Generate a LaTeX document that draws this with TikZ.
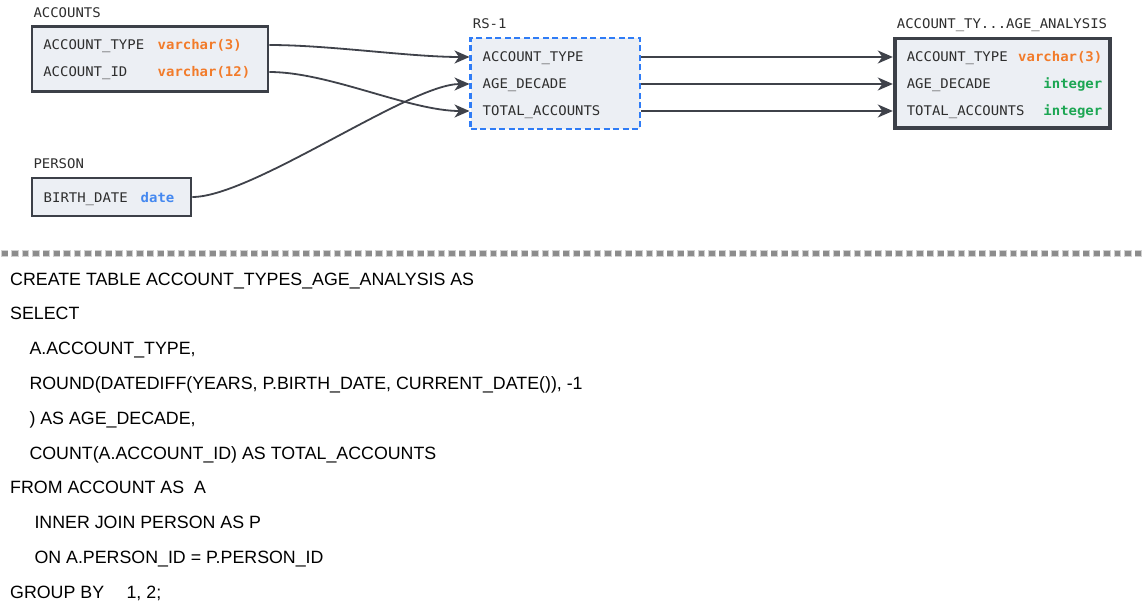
\documentclass[tikz,border=0pt]{standalone}
\usepackage{fontspec}
\setmainfont{Liberation Sans}
\newfontfamily\dmono[FakeStretch=1.05]{DejaVu Sans Mono}
\usetikzlibrary{arrows.meta}
\definecolor{boxfill}{HTML}{ECEFF4}
\definecolor{boxline}{HTML}{3C4048}
\definecolor{rsblue}{HTML}{2F7CF6}
\definecolor{txt}{HTML}{2E2E2E}
\definecolor{torange}{HTML}{F27B2A}
\definecolor{tgreen}{HTML}{1CA653}
\definecolor{tblue}{HTML}{4488F0}
\definecolor{conncol}{HTML}{3F424A}
\definecolor{sepcol}{HTML}{8C8C8C}
\newcommand\monofnt{\dmono\fontsize{13.3pt}{15pt}\selectfont}
\newcommand\sqlfnt{\fontsize{17.8pt}{20pt}\selectfont}
\begin{document}
\begin{tikzpicture}[x=1pt,y=-1pt,
  tbl/.style={draw=boxline, line width=2.6pt, fill=boxfill, inner sep=0pt, outer sep=0pt, anchor=north west},
  tgt/.style={tbl, line width=3.6pt},
  rsbox/.style={draw=rsblue, line width=2.8pt, fill=boxfill, inner sep=0pt, outer sep=0pt, anchor=north west, dash pattern=on 6pt off 3.5pt},
  row/.style={inner sep=0pt, outer sep=0pt, anchor=base west, text height=10pt, text depth=0pt, font=\monofnt, text=txt},
  lbl/.style={inner sep=0pt, anchor=base west, font=\monofnt, text=txt},
  conn/.style={draw=conncol, line width=1.8pt, -{Stealth[length=15pt, width=13pt, inset=4.5pt]}},
  sql/.style={inner sep=0pt, anchor=base west, font=\sqlfnt, text=black}
]
\useasboundingbox[fill=white] (0,0) rectangle (1145,607);

% ACCOUNTS
\node[lbl] (accountsLbl) at (33.3,17.3) {ACCOUNTS};
\node[tbl, minimum width=236pt, minimum height=65pt] (accounts) at (32,26.3) {};
\node[row] (aType) at (30.7,50) {\hbox to 238.6pt{\hspace*{12.6pt}\makebox[114.4pt][l]{ACCOUNT\_TYPE}{\bfseries\color{torange}varchar(3)}\hfil}};
\node[row] (aId) at (30.7,77) {\hbox to 238.6pt{\hspace*{12.6pt}\makebox[114.4pt][l]{ACCOUNT\_ID}{\bfseries\color{torange}varchar(12)}\hfil}};

% PERSON
\node[lbl] (personLbl) at (33.3,168) {PERSON};
\node[tbl, minimum width=159pt, minimum height=38pt] (person) at (32,178) {};
\node[row] (pBirth) at (30.7,202) {\hbox to 161.6pt{\hspace*{13pt}\makebox[97pt][l]{BIRTH\_DATE}{\bfseries\color{tblue}date}\hfil}};

% RS-1
\node[lbl] (rsLbl) at (472.7,29) {RS-1};
\node[rsbox, minimum width=169.3pt, minimum height=91pt] (rs) at (470.7,38) {};
\node[row] (rType) at (469.5,62) {\hbox to 171.8pt{\hspace*{13.2pt}ACCOUNT\_TYPE\hfil}};
\node[row] (rAge) at (469.5,89) {\hbox to 171.8pt{\hspace*{13.2pt}AGE\_DECADE\hfil}};
\node[row] (rTotal) at (469.5,116) {\hbox to 171.8pt{\hspace*{13.2pt}TOTAL\_ACCOUNTS\hfil}};

% TARGET
\node[lbl] (tgtLbl) at (896.7,29) {ACCOUNT\_TY...AGE\_ANALYSIS};
\node[tgt, minimum width=215pt, minimum height=89.3pt] (target) at (894.7,38.7) {};
\node[row] (tType) at (892.8,62) {\hbox to 209.5pt{\hspace*{14pt}ACCOUNT\_TYPE\hfill{\bfseries\color{torange}varchar(3)}}};
\node[row] (tAge) at (892.8,89) {\hbox to 209.5pt{\hspace*{14pt}AGE\_DECADE\hfill{\bfseries\color{tgreen}integer}}};
\node[row] (tTotal) at (892.8,116) {\hbox to 209.5pt{\hspace*{14pt}TOTAL\_ACCOUNTS\hfill{\bfseries\color{tgreen}integer}}};

% connectors
\draw[conn] (aType.east) .. controls +(60,0) and +(-60,0) .. (rType.west);
\draw[conn] (aId.east) .. controls +(60,0) and +(-60,0) .. (rTotal.west);
\draw[conn] (pBirth.east) .. controls +(60,0) and +(-60,0) .. (rAge.west);
\draw[conn] (rType.east) -- (tType.west);
\draw[conn] (rAge.east) -- (tAge.west);
\draw[conn] (rTotal.east) -- (tTotal.west);

% separator
\draw[draw=sepcol!40, line width=7.5pt, dash pattern=on 7.5pt off 2.9pt] (0.95,253.5) -- (1145,253.5);
\draw[draw=sepcol, line width=5.8pt, dash pattern=on 5.8pt off 4.6pt] (1.8,253.5) -- (1145,253.5);

% SQL
\node[sql] (s1) at (10,285) {CREATE TABLE ACCOUNT\_TYPES\_AGE\_ANALYSIS AS};
\node[sql] (s2) at (10,319.8) {SELECT};
\node[sql] (s3) at (29.3,354.6) {A.ACCOUNT\_TYPE,};
\node[sql] (s4) at (29.3,389.4) {ROUND(DATEDIFF(YEARS, P.BIRTH\_DATE, CURRENT\_DATE()), -1};
\node[sql] (s5) at (29.3,424.2) {) AS AGE\_DECADE,};
\node[sql] (s6) at (29.3,459) {COUNT(A.ACCOUNT\_ID) AS TOTAL\_ACCOUNTS};
\node[sql] (s7) at (10,493.8) {FROM ACCOUNT AS\ \ A};
\node[sql] (s8) at (34.3,528.6) {INNER JOIN PERSON AS P};
\node[sql] (s9) at (34.3,563.4) {ON A.PERSON\_ID = P.PERSON\_ID};
\node[sql] (s10) at (10,598.2) {\makebox[116.4pt][l]{GROUP BY}1, 2;};
\end{tikzpicture}
\end{document}
